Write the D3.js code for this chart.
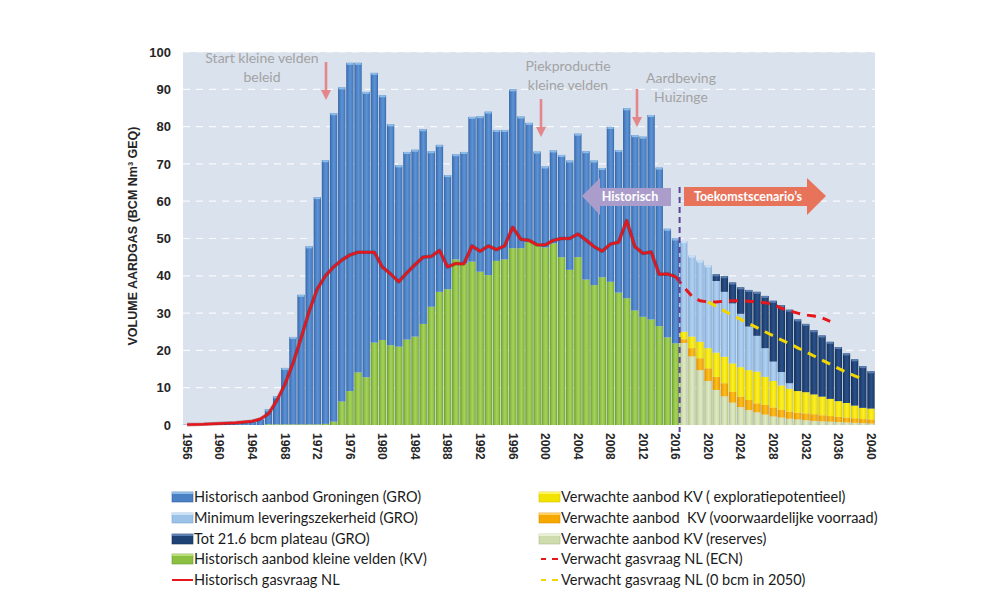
<!DOCTYPE html>
<html><head><meta charset="utf-8">
<script src="https://cdn.jsdelivr.net/npm/d3@7"></script>
<style>
html,body{margin:0;padding:0;background:#fff;}
svg{display:block;}
text{white-space:pre;}
</style></head><body>
<svg id="chart" width="983" height="609"></svg>
<script>
// ---------- DATA ----------
const histYears = d3.range(1956, 2017);   // 1956..2016
const futYears  = d3.range(2017, 2041);   // 2017..2040
const yTicks = [0,10,20,30,40,50,60,70,80,90,100];
const xTickYears = [1956,1960,1964,1968,1972,1976,1980,1984,1988,1992,1996,2000,2004,2008,2012,2016,2020,2024,2028,2032,2036,2040];

// Historisch aanbod Groningen (GRO)
const groHist = [0.1,0.1,0.2,0.2,0.3,0.3,0.4,0.6,0.8,1.5,
  4.0,7.5,15.1,23.4,34.7,47.7,60.9,70.7,82.7,84.2,
  88.0,83.0,76.5,72.3,65.6,59.2,48.6,50.3,50.1,52.2,
  41.7,39.4,30.6,28.2,29.9,38.8,41.7,43.8,35.1,34.7,
  42.6,35.3,31.9,24.6,21.7,24.9,27.4,29.3,33.1,34.4,
  33.4,29.3,41.5,38.2,50.9,47.0,48.3,54.8,42.5,29.1,28.1];
// Historisch aanbod kleine velden (KV)
const kvHist = [0,0,0,0,0,0,0,0,0,0,
  0.2,0.2,0.2,0.2,0.2,0.2,0.2,0.3,0.9,6.3,
  9.1,14.1,12.8,22.1,22.8,21.4,21.0,22.9,23.7,27.1,
  31.7,35.7,36.4,44.4,43.3,43.8,41.1,40.2,44.0,44.4,
  47.4,47.4,49.1,48.7,47.6,48.7,45.0,41.6,45.0,39.0,
  37.5,39.6,38.4,35.5,34.0,30.7,29.0,28.3,26.5,23.5,21.9];
// Historisch gasvraag NL
const demandHist = [0.1,0.15,0.2,0.3,0.4,0.5,0.6,0.8,1.0,1.6,
  3.0,6.5,10.8,16.5,23.3,30.5,36.5,40.0,42.4,44.2,
  45.6,46.3,46.3,46.3,42.3,40.5,38.4,40.8,43.0,45.0,
  45.2,46.8,42.4,43.3,43.2,48.0,46.6,48.0,47.0,48.0,
  53.0,49.8,49.5,48.3,48.3,49.5,50.0,50.0,51.2,49.6,
  47.8,46.6,48.5,49.0,54.8,47.8,46.0,46.4,40.4,40.5,39.8];

// Future 2017..2040
const reserves = [22.0,18.4,14.7,11.8,9.4,7.7,6.0,4.8,4.0,3.4,2.8,2.3,2.0,1.7,1.5,1.3,1.1,1.0,0.9,0.8,0.7,0.6,0.5,0.4];
const voorwaardelijk = [1.0,2.2,3.2,3.4,3.5,3.5,2.9,2.8,2.7,2.4,2.6,2.4,2.1,1.9,1.8,1.8,1.8,1.6,1.5,1.4,1.3,1.2,1.1,1.1];
const exploratie = [2.0,3.1,4.4,5.4,6.5,7.1,7.6,7.9,8.0,8.5,7.5,7.1,6.5,6.1,5.8,5.7,5.3,5.0,4.6,4.2,3.9,3.4,3.0,2.9];
const minLevering = [24.3,21.7,21.8,22.2,19.2,17.4,16.1,14.3,11.7,9.6,7.7,5.2,3.6,1.5,0,0,0,0,0,0,0,0,0,0];
const plateau = [0,0,0,0,1.8,4.2,5.6,7.1,9.8,11.8,14.0,16.3,17.9,19.7,19.2,18.3,17.2,16.4,15.3,14.5,13.3,12.4,11.2,10.0];

// Verwacht gasvraag NL (ECN), 2016..2035
const ecnYears = d3.range(2016, 2036);
const ecnDemand = [39.8,37.0,34.6,33.3,33.0,33.0,33.2,33.3,33.3,33.2,33.0,32.8,32.3,31.3,30.6,30.0,29.5,29.2,28.7,27.8];
// Verwacht gasvraag NL (0 bcm in 2050), 2020..2039
const zeroYears = d3.range(2020, 2040);
const zeroDemand = [33.0,31.8,30.6,29.4,28.3,27.2,26.1,25.0,23.9,22.8,21.8,20.7,19.6,18.5,17.4,16.3,15.2,14.1,13.2,12.3];

// ---------- SETUP ----------
const svg = d3.select("#chart");
const W = 983, H = 609;
const plot = {left:183, right:875, top:52, bottom:425};
const allYears = histYears.concat(futYears);

const x = d3.scaleBand().domain(allYears).range([plot.left, plot.right]).paddingInner(0.1).paddingOuter(0.05);
const y = d3.scaleLinear().domain([0,100]).range([plot.bottom, plot.top]);
const cx = yr => x(yr) + x.bandwidth()/2;

const series = [
  {key:"kvHist",   label:"Historisch aanbod kleine velden (KV)", base:"#8cc043", dark:"#6a9a2c", light:"#a6d25c", cap:"#b7dc7a"},
  {key:"reserves", label:"Verwachte aanbod KV (reserves)", base:"#cfdcae", dark:"#aebd88", light:"#dfe9c4", cap:"#e8f0d4"},
  {key:"voorw",    label:"Verwachte aanbod  KV (voorwaardelijke voorraad)", base:"#f5a900", dark:"#d98c00", light:"#fbbf2a", cap:"#ffd060"},
  {key:"explor",   label:"Verwachte aanbod KV ( exploratiepotentieel)", base:"#f3e300", dark:"#d6c400", light:"#fbef33", cap:"#fff466"},
  {key:"groHist",  label:"Historisch aanbod Groningen (GRO)", base:"#4a80c4", dark:"#3463a3", light:"#5d93d4", cap:"#8dbbe8"},
  {key:"minLev",   label:"Minimum leveringszekerheid (GRO)", base:"#9dc2e8", dark:"#7aa3cf", light:"#b2d1f0", cap:"#c9e0f6"},
  {key:"plateau",  label:"Tot 21.6 bcm plateau (GRO)", base:"#1f4275", dark:"#142f58", light:"#2b5189", cap:"#5a7fb0"}
];
const sMap = {}; series.forEach(s => sMap[s.key] = s);

const rows = allYears.map(yr => {
  const hi = histYears.indexOf(yr), fi = futYears.indexOf(yr);
  return {
    year: yr,
    kvHist: hi >= 0 ? kvHist[hi] : 0,
    reserves: fi >= 0 ? reserves[fi] : 0,
    voorw: fi >= 0 ? voorwaardelijk[fi] : 0,
    explor: fi >= 0 ? exploratie[fi] : 0,
    groHist: hi >= 0 ? groHist[hi] : 0,
    minLev: fi >= 0 ? minLevering[fi] : 0,
    plateau: fi >= 0 ? plateau[fi] : 0
  };
});
const stacked = d3.stack().keys(series.map(s => s.key))(rows);

// ---------- DEFS ----------
const defs = svg.append("defs");
series.forEach(s => {
  const g = defs.append("linearGradient").attr("id","g_"+s.key).attr("x1","0").attr("x2","1").attr("y1","0").attr("y2","0");
  g.append("stop").attr("offset","0%").attr("stop-color",s.dark);
  g.append("stop").attr("offset","25%").attr("stop-color",s.base);
  g.append("stop").attr("offset","55%").attr("stop-color",s.light);
  g.append("stop").attr("offset","85%").attr("stop-color",s.base);
  g.append("stop").attr("offset","100%").attr("stop-color",s.dark);
});

// ---------- BACKGROUND ----------
svg.append("rect").attr("width",W).attr("height",H).attr("fill","#ffffff");
svg.append("rect").attr("x",plot.left).attr("y",plot.top)
  .attr("width",plot.right-plot.left).attr("height",plot.bottom-plot.top).attr("fill","#dae2ed");

// gridlines
svg.append("g").selectAll("line").data(yTicks.filter(t=>t>0)).join("line")
  .attr("x1",plot.left).attr("x2",plot.right)
  .attr("y1",d=>y(d)).attr("y2",d=>y(d))
  .attr("stroke","#ffffff").attr("stroke-width",1.2).attr("stroke-dasharray","7,6").attr("opacity",0.85);

// ---------- BARS ----------
const barG = svg.append("g");
stacked.forEach(layer => {
  const s = sMap[layer.key];
  barG.append("g").selectAll("rect").data(layer.filter(d => d[1]-d[0] > 0)).join("rect")
    .attr("x", d => x(d.data.year))
    .attr("width", x.bandwidth())
    .attr("y", d => y(d[1]))
    .attr("height", d => y(d[0]) - y(d[1]))
    .attr("fill", "url(#g_"+s.key+")");
});
// top caps on the topmost segment of each bar
const capData = allYears.map((yr,i) => {
  let topKey = null, topVal = 0;
  stacked.forEach(layer => { const d = layer[i]; if (d[1]-d[0] > 0) { topKey = layer.key; topVal = d[1]; } });
  return {year:yr, key:topKey, val:topVal};
}).filter(d => d.key && d.val > 1.5);
barG.append("g").selectAll("rect").data(capData).join("rect")
  .attr("x", d => x(d.year)+0.5).attr("width", x.bandwidth()-1)
  .attr("y", d => y(d.val)).attr("height", 2)
  .attr("fill", d => sMap[d.key].cap);

// ---------- LINES ----------
const line = d3.line().x(d => cx(d[0])).y(d => y(d[1]));
const histPts = histYears.map((yr,i) => [yr, demandHist[i]]);
svg.append("path").datum(histPts).attr("d", line)
  .attr("fill","none").attr("stroke","#6b0d0d").attr("stroke-width",3.6).attr("stroke-opacity",0.45).attr("stroke-linejoin","round");
svg.append("path").datum(histPts).attr("d", line)
  .attr("fill","none").attr("stroke","#e5161c").attr("stroke-width",2.4).attr("stroke-linejoin","round");

svg.append("path").datum(ecnYears.map((yr,i)=>[yr, ecnDemand[i]])).attr("d", line)
  .attr("fill","none").attr("stroke","#e5161c").attr("stroke-width",3).attr("stroke-dasharray","9,7");
svg.append("path").datum(zeroYears.map((yr,i)=>[yr, zeroDemand[i]])).attr("d", line)
  .attr("fill","none").attr("stroke","#f2d600").attr("stroke-width",3).attr("stroke-dasharray","9,7");

// divider between history and future
const divX = x(2017) - (x.step()-x.bandwidth())/2;
svg.append("line").attr("x1",divX).attr("x2",divX).attr("y1",187).attr("y2",432)
  .attr("stroke","#5d4496").attr("stroke-width",2).attr("stroke-dasharray","6,4");

// ---------- AXES ----------
const fontB = "'Liberation Sans', Arial, sans-serif";
const yAxis = svg.append("g").attr("transform",`translate(${plot.left-12},0)`)
  .call(d3.axisLeft(y).tickValues(yTicks).tickSize(0).tickPadding(0));
yAxis.select(".domain").remove();
yAxis.selectAll("text").attr("font-family",fontB).attr("font-weight","bold").attr("font-size",13).attr("fill","#262626");

const xAxis = svg.append("g").attr("transform",`translate(0,${plot.bottom})`)
  .call(d3.axisBottom(x).tickValues(xTickYears).tickSize(0));
xAxis.select(".domain").remove();
xAxis.selectAll("text")
  .attr("font-family",fontB).attr("font-weight","bold").attr("font-size",12).attr("fill","#262626")
  .attr("transform","rotate(90)").attr("text-anchor","start")
  .attr("x",8).attr("y",0).attr("dy","0.35em");

svg.append("text").attr("transform","translate(137,236) rotate(-90)")
  .attr("text-anchor","middle").attr("font-family",fontB).attr("font-weight","bold")
  .attr("font-size",12.5).attr("fill","#262626")
  .text("VOLUME AARDGAS (BCM Nm³ GEQ)");

// ---------- ANNOTATIONS ----------
const annFont = "Lato, 'Open Sans', sans-serif";
const annotations = [
  {lines:["Start kleine velden","beleid"], tx:262, ty:63, ax:326, ay1:62, ay2:100},
  {lines:["Piekproductie","kleine velden"], tx:568, ty:71, ax:541, ay1:99, ay2:137},
  {lines:["Aardbeving","Huizinge"], tx:681, ty:83, ax:637, ay1:89, ay2:127}
];
annotations.forEach(a => {
  a.lines.forEach((t,i) => {
    svg.append("text").attr("x",a.tx).attr("y",a.ty+i*19).attr("text-anchor","middle")
      .attr("font-family",annFont).attr("font-size",14).attr("fill","#a3a3a3").text(t);
  });
  svg.append("line").attr("x1",a.ax).attr("x2",a.ax).attr("y1",a.ay1).attr("y2",a.ay2-9)
    .attr("stroke","#e3878a").attr("stroke-width",2.6);
  svg.append("path").attr("d",`M${a.ax-5},${a.ay2-10} L${a.ax+5},${a.ay2-10} L${a.ax},${a.ay2} Z`)
    .attr("fill","#e3878a");
});

// Historisch arrow (left)
svg.append("path").attr("d","M582,196 L600,178 L600,188 L671,188 L671,206 L600,206 L600,215 Z").attr("fill","#aa9dcb");
svg.append("text").attr("x",630).attr("y",201).attr("text-anchor","middle")
  .attr("font-family",annFont).attr("font-weight","bold").attr("font-size",12.5).attr("fill","#ffffff").text("Historisch");
// Toekomst arrow (right)
svg.append("path").attr("d","M684,187 L807,187 L807,178 L826,196 L807,215 L807,206 L684,206 Z").attr("fill","#e8735b");
svg.append("text").attr("x",748).attr("y",201).attr("text-anchor","middle")
  .attr("font-family",annFont).attr("font-weight","bold").attr("font-size",12.5).attr("fill","#ffffff").text("Toekomstscenario’s");

// ---------- LEGEND ----------
const legFont = "Lato, 'Open Sans', sans-serif";
const legendLeft = [
  {type:"rect", key:"groHist"},
  {type:"rect", key:"minLev"},
  {type:"rect", key:"plateau"},
  {type:"rect", key:"kvHist"},
  {type:"line", color:"#e5161c", label:"Historisch gasvraag NL"}
];
const legendRight = [
  {type:"rect", key:"explor"},
  {type:"rect", key:"voorw"},
  {type:"rect", key:"reserves"},
  {type:"dash", color:"#e5161c", label:"Verwacht gasvraag NL (ECN)"},
  {type:"dash", color:"#f2d600", label:"Verwacht gasvraag NL (0 bcm in 2050)"}
];
const rowY = [497, 518, 539, 559, 580];
function drawLegend(items, x0) {
  items.forEach((it,i) => {
    const yy = rowY[i];
    if (it.type === "rect") {
      const s = sMap[it.key];
      svg.append("rect").attr("x",x0).attr("y",yy-5).attr("width",21).attr("height",10)
        .attr("fill",s.base).attr("stroke",s.dark).attr("stroke-width",0.6);
      svg.append("rect").attr("x",x0).attr("y",yy-5).attr("width",21).attr("height",2).attr("fill",s.cap);
    } else if (it.type === "line") {
      svg.append("line").attr("x1",x0).attr("x2",x0+21).attr("y1",yy).attr("y2",yy)
        .attr("stroke",it.color).attr("stroke-width",2);
    } else {
      svg.append("line").attr("x1",x0+2).attr("x2",x0+7).attr("y1",yy).attr("y2",yy).attr("stroke",it.color).attr("stroke-width",2);
      svg.append("line").attr("x1",x0+13).attr("x2",x0+19).attr("y1",yy).attr("y2",yy).attr("stroke",it.color).attr("stroke-width",2);
    }
    svg.append("text").attr("x",x0+22).attr("y",yy).attr("dy","0.35em")
      .attr("font-family",legFont).attr("font-size",14.5).attr("fill","#1a1a1a")
      .text(it.label || sMap[it.key].label);
  });
}
drawLegend(legendLeft, 172);
drawLegend(legendRight, 539);
</script>
</body></html>
